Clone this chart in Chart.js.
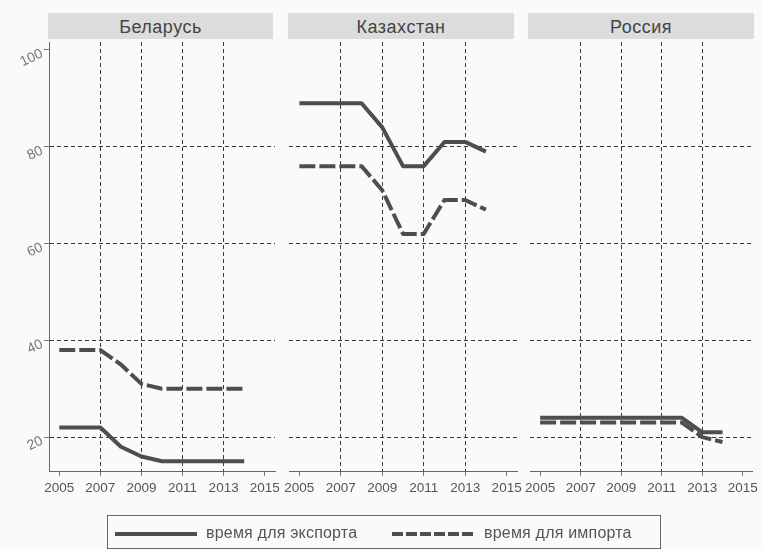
<!DOCTYPE html>
<html>
<head>
<meta charset="utf-8">
<script src="https://cdn.jsdelivr.net/npm/chart.js@4"></script>
<style>
  body { margin: 0; background: #fafafa; font-family: "Liberation Sans", Arial, sans-serif; }
  #wrap { position: relative; width: 762px; height: 549px; overflow: hidden; }
  canvas { position: absolute; left: 0; top: 0; }
  .strip { position: absolute; top: 13px; height: 26px; background: #dcdcdc; color: #444;
           font-size: 18px; letter-spacing: 0.5px; line-height: 28px; text-align: center; }
  .legend { position: absolute; left: 107px; top: 515px; width: 552px; height: 32px; border: 1px solid #666; }
  .sw { position: absolute; top: 16px; height: 4px; }
  .solid { background: #4e4e4e; }
  .dash { background: repeating-linear-gradient(to right, #4e4e4e 0 11px, transparent 11px 14px); }
  .lt { position: absolute; top: 8px; font-size: 16px; letter-spacing: 0.2px; color: #555; white-space: nowrap; }
</style>
</head>
<body>
<div id="wrap">
  <div class="strip" style="left:48px;width:225px">Беларусь</div>
  <div class="strip" style="left:288px;width:226px">Казахстан</div>
  <div class="strip" style="left:528px;width:226px">Россия</div>
  <canvas id="c1" width="762" height="549"></canvas>
  <canvas id="c2" width="762" height="549"></canvas>
  <canvas id="c3" width="762" height="549"></canvas>
  <div class="legend">
    <span class="sw solid" style="left:7px;width:82px"></span>
    <span class="lt" style="left:98px">время для экспорта</span>
    <span class="sw dash" style="left:284px;width:83px"></span>
    <span class="lt" style="left:376px">время для импорта</span>
  </div>
</div>
<script>
// data (days)
var years = [2005, 2006, 2007, 2008, 2009, 2010, 2011, 2012, 2013, 2014];
var belExport = [22, 22, 22, 18, 16, 15, 15, 15, 15, 15];
var belImport = [38, 38, 38, 35, 31, 30, 30, 30, 30, 30];
var kazExport = [89, 89, 89, 89, 84, 76, 76, 81, 81, 79];
var kazImport = [76, 76, 76, 76, 71, 62, 62, 69, 69, 67];
var rusExport = [24, 24, 24, 24, 24, 24, 24, 24, 21, 21];
var rusImport = [23, 23, 23, 23, 23, 23, 23, 23, 20, 19];
var xTicks = [2005, 2007, 2009, 2011, 2013, 2015];
var yTicks = [20, 40, 60, 80, 100];

var lineColor = '#4e4e4e';
var gridColor = '#3a3a3a';

// y labels are tilted, chart.js won't rotate them on a vertical axis
var yLabels = {
  id: 'yLabels',
  afterDraw: function(chart) {
    var s = chart.scales.y, ctx = chart.ctx;
    ctx.save();
    ctx.fillStyle = '#777';
    ctx.font = '14px "Liberation Sans", Arial, sans-serif';
    ctx.textAlign = 'right';
    ctx.textBaseline = 'middle';
    s.ticks.forEach(function(t) {
      var py = s.getPixelForValue(t.value);
      ctx.save();
      ctx.translate(s.left + 42, py + 3);
      ctx.rotate(-0.45);
      ctx.fillText(String(t.value), 0, 0);
      ctx.restore();
    });
    ctx.restore();
  }
};

function pts(vals) {
  return years.map(function(y, i) { return { x: y, y: vals[i] }; });
}

function makePanel(id, exp, imp, left, right, showY) {
  return new Chart(document.getElementById(id), {
    type: 'line',
    data: {
      datasets: [
        { label: 'время для экспорта', data: pts(exp), borderColor: lineColor, borderWidth: 4,
          pointRadius: 0, tension: 0, borderJoinStyle: 'round' },
        { label: 'время для импорта', data: pts(imp), borderColor: lineColor, borderWidth: 4,
          borderDash: [16, 4], pointRadius: 0, tension: 0, borderJoinStyle: 'round' }
      ]
    },
    options: {
      responsive: false,
      animation: false,
      layout: { padding: { left: left, right: 762 - right, top: 42, bottom: 49 } },
      plugins: { legend: { display: false }, tooltip: { enabled: false } },
      scales: {
        x: {
          type: 'linear', min: 2004.5, max: 2015.5,
          afterBuildTicks: function(s) { s.ticks = xTicks.map(function(v) { return { value: v }; }); },
          afterFit: function(s) { s.height = 29; },
          grid: {
            color: function(c) {
              return c.tick && (c.tick.value === 2005 || c.tick.value === 2015) ? 'rgba(0,0,0,0)' : gridColor;
            },
            tickLength: 5, tickColor: '#777'
          },
          border: { color: '#666', width: 1, dash: [4, 3] },
          ticks: { autoSkip: false, maxRotation: 0, color: '#555', padding: 4,
                   font: { size: 13.5, family: '"Liberation Sans", Arial, sans-serif' },
                   callback: function(v) { return String(v); } }
        },
        y: {
          min: 13, max: 101.65,
          afterBuildTicks: function(s) { s.ticks = yTicks.map(function(v) { return { value: v }; }); },
          afterFit: function(s) { s.width = showY ? 49 : 0; },
          grid: {
            color: function(c) { return c.tick && c.tick.value === 100 ? 'rgba(0,0,0,0)' : gridColor; },
            drawTicks: showY, tickLength: 5, tickColor: '#777'
          },
          border: { display: showY, color: '#666', width: 1, dash: [4, 3] },
          ticks: { display: false }
        }
      }
    },
    plugins: showY ? [yLabels] : []
  });
}

makePanel('c1', belExport, belImport, 0, 275, true);
makePanel('c2', kazExport, kazImport, 289, 517, false);
makePanel('c3', rusExport, rusImport, 530, 757, false);
</script>
</body>
</html>
